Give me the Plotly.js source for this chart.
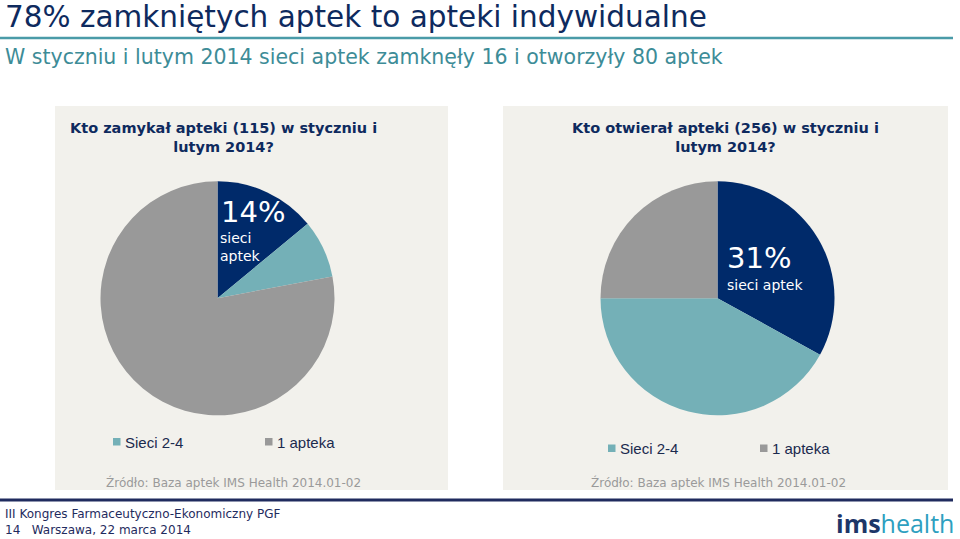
<!DOCTYPE html>
<html>
<head>
<meta charset="utf-8">
<script src="https://cdn.plot.ly/plotly-3.0.1.min.js"></script>
<style>html,body{margin:0;padding:0;background:#fff;}#chart{width:960px;height:539px;}</style>
</head>
<body>
<div id="chart"></div>
<script>
// ---- data ----
const categories = ['Sieci aptek', 'Sieci 2-4', '1 apteka'];
const closedValues = [14, 8, 78];
const openedValues = [33, 42, 25];
const legendLabels = ['Sieci 2-4', '1 apteka'];
const mainTitle = '78% zamkniętych aptek to apteki indywidualne';
const subTitle = 'W styczniu i lutym 2014 sieci aptek zamknęły 16 i otworzyły 80 aptek';
const closedTitle = 'Kto zamykał apteki (115) w styczniu i<br>lutym 2014?';
const openedTitle = 'Kto otwierał apteki (256) w styczniu i<br>lutym 2014?';
const closedLabelPct = '14%';
const openedLabelPct = '31%';
const sourceText = 'Źródło: Baza aptek IMS Health 2014.01-02';
const footer1 = 'III Kongres Farmaceutyczno-Ekonomiczny PGF';
const footer2 = '14&nbsp;&nbsp;&nbsp;Warszawa, 22 marca 2014';

// ---- styling ----
const W = 960, H = 539;
const NAVY = '#002A6A', TEAL = '#74B0B7', GRAY = '#999999';
const PANEL = '#F2F1EC';
const colors = [NAVY, TEAL, GRAY];
const px = x => x / W;
const py = y => 1 - y / H;
const FONT = 'DejaVu Sans, Verdana, sans-serif';
const ARIAL = 'Liberation Sans, Arial, sans-serif';

function pieTrace(values, cx, cy, r) {
  return {
    type: 'pie', labels: categories, values: values, sort: false,
    direction: 'clockwise', rotation: 0, textinfo: 'none', hoverinfo: 'label+percent',
    marker: {colors: colors, line: {width: 0}}, showlegend: false,
    domain: {x: [px(cx - r), px(cx + r)], y: [py(cy + r), py(cy - r)]}
  };
}

const data = [
  pieTrace(closedValues, 217.5, 298.3, 117),
  pieTrace(openedValues, 717.5, 298.3, 117)
];

const shapes = [
  {type: 'rect', xref: 'paper', yref: 'paper', x0: px(55), x1: px(448), y0: py(490), y1: py(106), fillcolor: PANEL, line: {width: 0}, layer: 'below'},
  {type: 'rect', xref: 'paper', yref: 'paper', x0: px(503), x1: px(948), y0: py(490), y1: py(106), fillcolor: PANEL, line: {width: 0}, layer: 'below'},
  {type: 'line', xref: 'paper', yref: 'paper', x0: 0, x1: px(953), y0: py(38), y1: py(38), line: {color: '#4A9BA8', width: 2.5}},
  {type: 'line', xref: 'paper', yref: 'paper', x0: 0, x1: px(953), y0: py(500), y1: py(500), line: {color: '#1F2B5E', width: 3}}
];

const ann = [];
function txt(text, x, y, size, color, family, xanchor, extra) {
  ann.push(Object.assign({xref: 'paper', yref: 'paper', x: px(x), y: py(y), text: text, showarrow: false,
    xanchor: xanchor || 'left', yanchor: 'middle', font: {size: size, color: color, family: family || FONT}}, extra || {}));
}
function legendAt(x1, x2, y) {
  [[x1, TEAL, legendLabels[0]], [x2, GRAY, legendLabels[1]]].forEach(([x, c, t]) => {
    shapes.push({type: 'rect', xref: 'paper', yref: 'paper', x0: px(x), x1: px(x + 7.5), y0: py(y + 3.5), y1: py(y - 4), fillcolor: c, line: {width: 0}});
    txt(t, x + 9.5, y, 15, '#1B2A4E', ARIAL);
  });
}

txt(mainTitle, 3, 17, 29.5, '#0E2A5E');
txt(subTitle, 3, 57, 20.5, '#3D8C97');
txt('<b>' + closedTitle + '</b>', 223, 137, 14.5, '#0E2A5E', FONT, 'center', {align: 'center'});
txt('<b>' + openedTitle + '</b>', 725, 137, 14.5, '#0E2A5E', FONT, 'center', {align: 'center'});
txt(closedLabelPct, 219, 212, 29, '#FFFFFF');
txt('sieci', 218, 238, 14, '#FFFFFF');
txt('aptek', 218, 256, 14, '#FFFFFF');
txt(openedLabelPct, 725, 258, 29, '#FFFFFF');
txt('sieci aptek', 725, 285, 14, '#FFFFFF');
legendAt(113, 265, 442);
legendAt(608, 760, 448.5);
txt(sourceText, 104, 482, 12, '#9A9A9A');
txt(sourceText, 589, 482, 12, '#9A9A9A');
txt(footer1, 3, 514, 12, '#1F2B5E');
txt(footer2, 3, 530, 12, '#1F2B5E');
txt('<b><span style="color:#1D3668">ims</span></b><span style="color:#2E9FC0">health</span>', 956, 523, 25, '#1D3668', 'Open Sans, sans-serif', 'right');

const layout = {
  width: W, height: H, margin: {l: 0, r: 0, t: 0, b: 0},
  paper_bgcolor: '#FFFFFF', plot_bgcolor: '#FFFFFF',
  showlegend: false, shapes: shapes, annotations: ann
};
Plotly.newPlot('chart', data, layout, {displayModeBar: false, staticPlot: true});
</script>
</body>
</html>
